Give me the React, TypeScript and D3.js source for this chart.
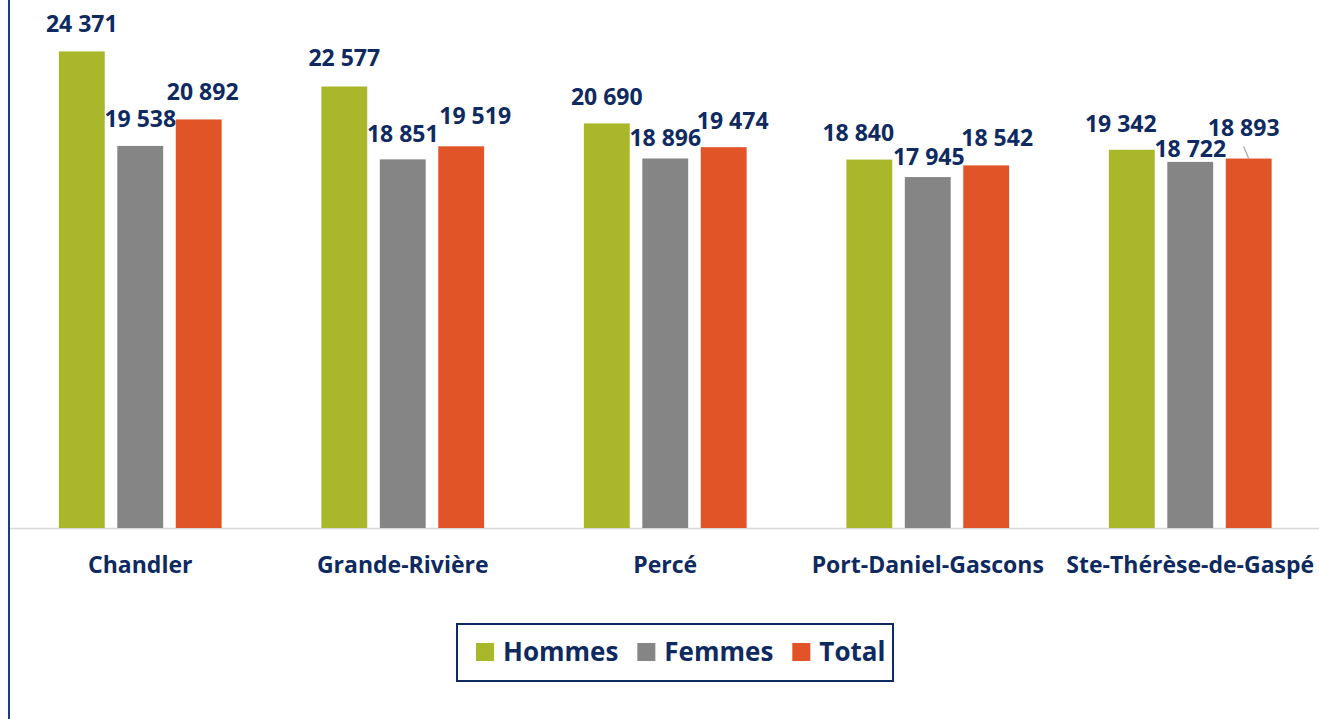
import React, { useEffect, useRef } from "react";
import * as d3 from "d3";

const categories = ["Chandler", "Grande-Rivière", "Percé", "Port-Daniel-Gascons", "Ste-Thérèse-de-Gaspé"];
const seriesNames = ["Hommes", "Femmes", "Total"];
const hommes = [24371, 22577, 20690, 18840, 19342];
const femmes = [19538, 18851, 18896, 17945, 18722];
const total = [20892, 19519, 19474, 18542, 18893];
const yMax = 27000;

const colors = ["#a9b82b", "#858585", "#e05427"];
const navy = "#0e2a60";

// hand nudges for labels that Excel moved to avoid overlaps [dx, dy]
const labelNudge = [
  [[0, 0], [0, -1], [0, 1], [-11, 0], [-11, 1]],
  [[0, 0], [0, 2], [0, 7], [1, 7], [0, 14]],
  [[4, 0], [14, -3], [9, 1], [11, 0], [-5, -4]],
];

const W = 1319, H = 719;

export default function App() {
  const ref = useRef<SVGSVGElement>(null);

  useEffect(() => {
    const svg = d3.select(ref.current);
    svg.selectAll("*").remove();

    const values = [hommes, femmes, total];
    const fmt = (v: number) => d3.format(",")(v).replace(/,/g, " ");

    const x0 = d3.scaleBand<string>().domain(categories).range([9, 1321.5]).paddingInner(0.38).paddingOuter(0.19);
    const x1 = d3.scaleBand<string>().domain(seriesNames).range([0, x0.bandwidth()]).paddingInner(0.215);
    const y = d3.scaleLinear().domain([0, yMax]).range([528, 0]);

    // baseline
    svg.append("line")
      .attr("x1", 10).attr("x2", W)
      .attr("y1", y(0) + 0.5).attr("y2", y(0) + 0.5)
      .attr("stroke", "#d9d9d9").attr("stroke-width", 1.5);

    // bars
    seriesNames.forEach((s, si) => {
      svg.append("g").selectAll("rect")
        .data(values[si])
        .join("rect")
        .attr("x", (d, i) => x0(categories[i])! + x1(s)!)
        .attr("y", d => y(d))
        .attr("width", x1.bandwidth())
        .attr("height", d => y(0) - y(d))
        .attr("fill", colors[si]);
    });

    // value labels
    seriesNames.forEach((s, si) => {
      values[si].forEach((v, i) => {
        const cx = x0(categories[i])! + x1(s)! + x1.bandwidth() / 2;
        const [dx, dy] = labelNudge[si][i];
        const lx = cx + dx, ly = y(v) - 19 + dy;
        svg.append("text")
          .attr("x", lx).attr("y", ly)
          .attr("text-anchor", "middle")
          .attr("font-family", "'Open Sans', sans-serif")
          .attr("font-weight", 700)
          .attr("font-size", 23)
          .attr("fill", navy)
          .text(fmt(v));
        if (si === 2 && i === 4) {
          svg.append("line")
            .attr("x1", lx).attr("y1", ly + 11)
            .attr("x2", cx).attr("y2", y(v))
            .attr("stroke", "#a6a6a6").attr("stroke-width", 1.2);
        }
      });
    });

    // category labels
    svg.append("g").selectAll("text")
      .data(categories)
      .join("text")
      .attr("x", d => x0(d)! + x0.bandwidth() / 2)
      .attr("y", 573)
      .attr("text-anchor", "middle")
      .attr("font-family", "'Open Sans', sans-serif")
      .attr("font-weight", 700)
      .attr("font-size", 23)
      .attr("fill", navy)
      .text(d => d);

    // left border line
    svg.append("line")
      .attr("x1", 9).attr("x2", 9)
      .attr("y1", 0).attr("y2", H)
      .attr("stroke", "#1f3a7e").attr("stroke-width", 2);

    // legend
    const lg = svg.append("g");
    lg.append("rect")
      .attr("x", 457).attr("y", 624)
      .attr("width", 436).attr("height", 57)
      .attr("fill", "white").attr("stroke", navy).attr("stroke-width", 2);
    let lx = 476;
    seriesNames.forEach((s, si) => {
      lg.append("rect")
        .attr("x", lx).attr("y", 643)
        .attr("width", 18).attr("height", 18)
        .attr("fill", colors[si]);
      const t = lg.append("text")
        .attr("x", lx + 27).attr("y", 661)
        .attr("font-family", "'Open Sans', sans-serif")
        .attr("font-weight", 700)
        .attr("font-size", 26)
        .attr("fill", navy)
        .text(s);
      const len = (t.node() as SVGTextElement).getComputedTextLength();
      lx = lx + 27 + len + 19;
    });
  }, []);

  return (
    <svg ref={ref} width={W} height={H}
      style={{ position: "absolute", left: 0, top: 0, background: "white" }} />
  );
}
